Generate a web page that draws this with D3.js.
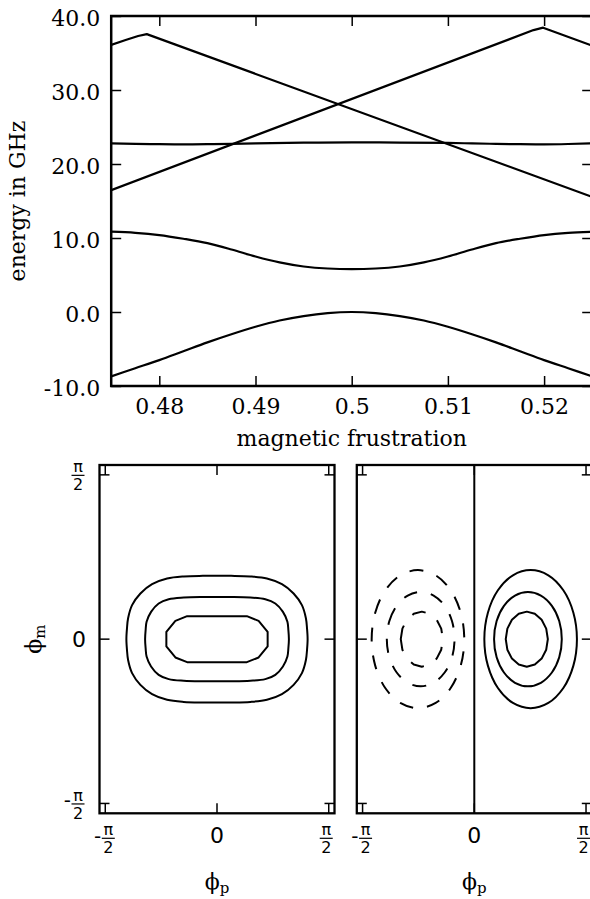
<!DOCTYPE html>
<html>
<head>
<meta charset="utf-8">
<script src="https://cdn.jsdelivr.net/npm/d3@7"></script>
<style>
  html, body { margin: 0; padding: 0; background: #fff; }
  svg { display: block; }
</style>
</head>
<body>
<svg id="fig" width="590" height="899"></svg>
<script>
// ---------- energy spectrum: tick values and labels ----------
const fluxTicks = [0.48, 0.49, 0.50, 0.51, 0.52];
const fluxTickLabels = ["0.48", "0.49", "0.5", "0.51", "0.52"];
const energyTicks = [-10, 0, 10, 20, 30, 40];
const energyTickLabels = ["-10.0", "0.0", "10.0", "20.0", "30.0", "40.0"];

// ---------- energy levels [frustration, energy in GHz] ----------
const levelGround = [
  [0.475, -8.7], [0.4775, -7.6], [0.48, -6.5], [0.4825, -5.3], [0.485, -4.1],
  [0.4875, -3.0], [0.49, -2.0], [0.4925, -1.15], [0.495, -0.55], [0.4975, -0.15],
  [0.50, 0.0], [0.5025, -0.15], [0.505, -0.55], [0.5075, -1.15], [0.51, -2.0],
  [0.5125, -3.0], [0.515, -4.1], [0.5175, -5.3], [0.52, -6.5], [0.5225, -7.6], [0.525, -8.7]
];
const levelFirst = [
  [0.475, 10.85], [0.4775, 10.7], [0.48, 10.4], [0.4825, 9.9], [0.485, 9.3],
  [0.4875, 8.45], [0.49, 7.5], [0.4925, 6.7], [0.495, 6.15], [0.4975, 5.88],
  [0.50, 5.8], [0.5025, 5.88], [0.505, 6.15], [0.5075, 6.7], [0.51, 7.5],
  [0.5125, 8.45], [0.515, 9.3], [0.5175, 9.9], [0.52, 10.4], [0.5225, 10.7], [0.525, 10.85]
];
const levelFlat = [
  [0.475, 22.8], [0.4775, 22.72], [0.48, 22.68], [0.4825, 22.66], [0.485, 22.68],
  [0.4875, 22.73], [0.49, 22.8], [0.495, 22.88], [0.50, 22.92], [0.505, 22.9],
  [0.51, 22.85], [0.5125, 22.78], [0.515, 22.72], [0.5175, 22.68], [0.52, 22.66],
  [0.5225, 22.7], [0.525, 22.79]
];
const levelFalling = [
  [0.475, 36.1], [0.4765, 36.75], [0.4778, 37.3], [0.4787, 37.55], [0.525, 15.56]
];
const levelRising = [
  [0.475, 16.47], [0.5189, 38.1], [0.5199, 38.42], [0.525, 35.98]
];
const smoothLevels = [levelGround, levelFirst, levelFlat];
const straightLevels = [levelFalling, levelRising];

// ---------- wavefunction panels: tick values and labels ----------
const phiTicks = [-Math.PI / 2, 0, Math.PI / 2];
const phiTickLabels = [
  { sign: "-", num: "\u03c0", den: "2" },
  { text: "0" },
  { sign: "", num: "\u03c0", den: "2" }
];

// contour lines of the ground state [phi_p, phi_m]
const groundOuter = [
  [1.274, 0], [1.266, 0.10], [1.250, 0.20], [1.194, 0.325], [1.077, 0.437], [0.913, 0.526],
  [0.702, 0.580], [0.468, 0.600], [0.20, 0.605], [0, 0.605], [-0.20, 0.605], [-0.468, 0.600],
  [-0.702, 0.580], [-0.913, 0.526], [-1.077, 0.437], [-1.194, 0.325], [-1.250, 0.20], [-1.266, 0.10],
  [-1.274, 0], [-1.266, -0.10], [-1.250, -0.20], [-1.194, -0.325], [-1.077, -0.437], [-0.913, -0.526],
  [-0.702, -0.580], [-0.468, -0.600], [-0.20, -0.605], [0, -0.605], [0.20, -0.605], [0.468, -0.600],
  [0.702, -0.580], [0.913, -0.526], [1.077, -0.437], [1.194, -0.325], [1.250, -0.20], [1.266, -0.10]
];
const groundMiddle = [
  [1.011, 0], [1.003, 0.09], [0.990, 0.166], [0.927, 0.261], [0.820, 0.341], [0.679, 0.382],
  [0.468, 0.398], [0.20, 0.403], [0, 0.403], [-0.20, 0.403], [-0.468, 0.398], [-0.679, 0.382],
  [-0.820, 0.341], [-0.927, 0.261], [-0.990, 0.166], [-1.003, 0.09], [-1.011, 0],
  [-1.003, -0.09], [-0.990, -0.166], [-0.927, -0.261], [-0.820, -0.341], [-0.679, -0.382],
  [-0.468, -0.398], [-0.20, -0.403], [0, -0.403], [0.20, -0.403], [0.468, -0.398], [0.679, -0.382],
  [0.820, -0.341], [0.927, -0.261], [0.990, -0.166], [1.003, -0.09]
];
const groundInner = [
  [0.712, 0.07], [0.585, 0.175], [0.42, 0.22], [-0.42, 0.22], [-0.585, 0.175], [-0.712, 0.07],
  [-0.712, -0.07], [-0.585, -0.175], [-0.42, -0.22], [0.42, -0.22], [0.585, -0.175], [0.712, -0.07]
];

// contour lines of the excited state: positive lobe, negative lobe, nodal line
const excitedPosOuter = [
  [1.443, 0], [1.393, 0.253], [1.252, 0.467], [1.041, 0.610], [0.792, 0.660], [0.543, 0.610],
  [0.332, 0.467], [0.191, 0.253], [0.141, 0], [0.191, -0.253], [0.332, -0.467], [0.543, -0.610],
  [0.792, -0.660], [1.041, -0.610], [1.252, -0.467], [1.393, -0.253]
];
const excitedPosMiddle = [
  [1.230, 0], [1.194, 0.173], [1.091, 0.319], [0.936, 0.417], [0.754, 0.451], [0.572, 0.417],
  [0.417, 0.319], [0.314, 0.173], [0.278, 0], [0.314, -0.173], [0.417, -0.319], [0.572, -0.417],
  [0.754, -0.451], [0.936, -0.417], [1.091, -0.319], [1.194, -0.173]
];
const excitedPosInner = [
  [1.034, 0], [1.011, 0.101], [0.947, 0.186], [0.851, 0.243], [0.738, 0.263], [0.625, 0.243],
  [0.529, 0.186], [0.465, 0.101], [0.442, 0], [0.465, -0.101], [0.529, -0.186], [0.625, -0.243],
  [0.738, -0.263], [0.851, -0.243], [0.947, -0.186], [1.011, -0.101]
];
const excitedNegOuter = [
  [-1.443, 0], [-1.393, 0.253], [-1.252, 0.467], [-1.041, 0.610], [-0.792, 0.660], [-0.543, 0.610],
  [-0.332, 0.467], [-0.191, 0.253], [-0.141, 0], [-0.191, -0.253], [-0.332, -0.467], [-0.543, -0.610],
  [-0.792, -0.660], [-1.041, -0.610], [-1.252, -0.467], [-1.393, -0.253]
];
const excitedNegMiddle = [
  [-1.230, 0], [-1.194, 0.173], [-1.091, 0.319], [-0.936, 0.417], [-0.754, 0.451], [-0.572, 0.417],
  [-0.417, 0.319], [-0.314, 0.173], [-0.278, 0], [-0.314, -0.173], [-0.417, -0.319], [-0.572, -0.417],
  [-0.754, -0.451], [-0.936, -0.417], [-1.091, -0.319], [-1.194, -0.173]
];
const excitedNegInner = [
  [-1.034, 0], [-1.011, 0.101], [-0.947, 0.186], [-0.851, 0.243], [-0.738, 0.263], [-0.625, 0.243],
  [-0.529, 0.186], [-0.465, 0.101], [-0.442, 0], [-0.465, -0.101], [-0.529, -0.186], [-0.625, -0.243],
  [-0.738, -0.263], [-0.851, -0.243], [-0.947, -0.186], [-1.011, -0.101]
];
const excitedNode = [[0, -1.665], [0, 1.665]];

// ================= drawing =================
const svg = d3.select("#fig");
const SERIF = "'DejaVu Serif', serif";
const SANS = "'DejaVu Sans', sans-serif";
const INK = "#000";

function styleAxis(g, fontFamily, fontSize) {
  g.select(".domain").remove();
  g.selectAll(".tick line").attr("stroke", INK).attr("stroke-width", 1.5);
  g.selectAll(".tick text").attr("fill", INK)
    .style("font-family", fontFamily).style("font-size", fontSize + "px");
}

// ---------- top panel: energy vs magnetic frustration ----------
const T = { l: 111.2, r: 592.2, t: 16, b: 386 };
const xE = d3.scaleLinear().domain([0.475, 0.525]).range([T.l, T.r]);
const yE = d3.scaleLinear().domain([-10, 40]).range([T.b, T.t]);

svg.append("clipPath").attr("id", "clipTop")
  .append("rect").attr("x", T.l).attr("y", T.t).attr("width", T.r - T.l).attr("height", T.b - T.t);

const gTop = svg.append("g");
const lineSmooth = d3.line().x(d => xE(d[0])).y(d => yE(d[1])).curve(d3.curveMonotoneX);
const lineStraight = d3.line().x(d => xE(d[0])).y(d => yE(d[1]));

const gLevels = gTop.append("g").attr("clip-path", "url(#clipTop)");
gLevels.selectAll("path.smooth").data(smoothLevels).join("path")
  .attr("class", "smooth").attr("d", lineSmooth)
  .attr("fill", "none").attr("stroke", INK).attr("stroke-width", 2.2).attr("stroke-linejoin", "round");
gLevels.selectAll("path.straight").data(straightLevels).join("path")
  .attr("class", "straight").attr("d", lineStraight)
  .attr("fill", "none").attr("stroke", INK).attr("stroke-width", 2.2).attr("stroke-linejoin", "round");

// ticks point inward on all four sides
const axB = gTop.append("g").attr("transform", `translate(0,${T.b})`)
  .call(d3.axisBottom(xE).tickValues(fluxTicks).tickFormat((d, i) => fluxTickLabels[i])
    .tickSize(-10).tickPadding(12.5));
styleAxis(axB, SERIF, 22);
const axT = gTop.append("g").attr("transform", `translate(0,${T.t})`)
  .call(d3.axisTop(xE).tickValues(fluxTicks).tickFormat("").tickSize(-10));
styleAxis(axT, SERIF, 22);
const axL = gTop.append("g").attr("transform", `translate(${T.l},0)`)
  .call(d3.axisLeft(yE).tickValues(energyTicks).tickFormat((d, i) => energyTickLabels[i])
    .tickSize(-10).tickPadding(11));
styleAxis(axL, SERIF, 22);
axL.selectAll(".tick text").attr("dy", "0.45em");
const axR = gTop.append("g").attr("transform", `translate(${T.r},0)`)
  .call(d3.axisRight(yE).tickValues(energyTicks).tickFormat("").tickSize(-10));
styleAxis(axR, SERIF, 22);

gTop.append("rect").attr("x", T.l).attr("y", T.t).attr("width", T.r - T.l).attr("height", T.b - T.t)
  .attr("fill", "none").attr("stroke", INK).attr("stroke-width", 2.5);

gTop.append("text").attr("x", (T.l + T.r) / 2).attr("y", 446)
  .attr("text-anchor", "middle").style("font-family", SERIF).style("font-size", "22px")
  .text("magnetic frustration");
gTop.append("text").attr("transform", `translate(25,${(T.t + T.b) / 2}) rotate(-90)`)
  .attr("text-anchor", "middle").style("font-family", SERIF).style("font-size", "22px")
  .text("energy in GHz");

// ---------- bottom panels: wavefunction contours ----------
const P = { t: 465, b: 813.3 };
const yPhi = d3.scaleLinear().domain([-1.665, 1.665]).range([P.b, P.t]);

function fraction(g, cx, barY, lab) {
  g.append("line").attr("x1", cx - 6.5).attr("x2", cx + 6.5).attr("y1", barY).attr("y2", barY)
    .attr("stroke", INK).attr("stroke-width", 1.2);
  g.append("text").attr("x", cx).attr("y", barY - 3.3).attr("text-anchor", "middle")
    .style("font-family", SANS).style("font-size", "16px").text(lab.num);
  g.append("text").attr("x", cx).attr("y", barY + 15).attr("text-anchor", "middle")
    .style("font-family", SANS).style("font-size", "16px").text(lab.den);
}

function panel(x0, x1, contours, showYLabels) {
  const xPhi = d3.scaleLinear().domain([-1.652, 1.652]).range([x0, x1]);
  const g = svg.append("g");
  const clipId = "clip" + Math.round(x0);
  svg.append("clipPath").attr("id", clipId).append("rect")
    .attr("x", x0).attr("y", P.t).attr("width", x1 - x0).attr("height", P.b - P.t);
  const gc = g.append("g").attr("clip-path", `url(#${clipId})`);

  contours.forEach(c => {
    const ln = d3.line().x(d => xPhi(d[0])).y(d => yPhi(d[1])).curve(c.curve);
    gc.append("path").attr("d", ln(c.data)).attr("fill", "none").attr("stroke", INK)
      .attr("stroke-width", 2).attr("stroke-linejoin", "round")
      .attr("stroke-dasharray", c.dashed ? "14,14" : null);
  });

  // inward ticks on all sides
  const tickLen = 10;
  phiTicks.forEach(v => {
    const px = xPhi(v), py = yPhi(v);
    g.append("line").attr("x1", px).attr("x2", px).attr("y1", P.b).attr("y2", P.b - tickLen)
      .attr("stroke", INK).attr("stroke-width", 1.5);
    g.append("line").attr("x1", px).attr("x2", px).attr("y1", P.t).attr("y2", P.t + tickLen)
      .attr("stroke", INK).attr("stroke-width", 1.5);
    g.append("line").attr("x1", x0).attr("x2", x0 + tickLen).attr("y1", py).attr("y2", py)
      .attr("stroke", INK).attr("stroke-width", 1.5);
    g.append("line").attr("x1", x1).attr("x2", x1 - tickLen).attr("y1", py).attr("y2", py)
      .attr("stroke", INK).attr("stroke-width", 1.5);
  });

  g.append("rect").attr("x", x0).attr("y", P.t).attr("width", x1 - x0).attr("height", P.b - P.t)
    .attr("fill", "none").attr("stroke", INK).attr("stroke-width", 2.3);

  // x tick labels
  phiTicks.forEach((v, i) => {
    const lab = phiTickLabels[i];
    const px = xPhi(v);
    if (lab.text) {
      g.append("text").attr("x", px).attr("y", 843.3).attr("text-anchor", "middle")
        .style("font-family", SANS).style("font-size", "22px").text(lab.text);
    } else {
      const cx = lab.sign ? px + 3 : px - 2.5;
      fraction(g, cx, 838.3, lab);
      if (lab.sign) {
        g.append("text").attr("x", cx - 7).attr("y", 842.5).attr("text-anchor", "end")
          .style("font-family", SANS).style("font-size", "20px").text(lab.sign);
      }
    }
  });

  // y tick labels
  if (showYLabels) {
    phiTicks.forEach((v, i) => {
      const lab = phiTickLabels[i];
      const py = yPhi(v);
      if (lab.text) {
        g.append("text").attr("x", 86).attr("y", py + 8).attr("text-anchor", "end")
          .style("font-family", SANS).style("font-size", "22px").text(lab.text);
      } else {
        const cx = 78;
        fraction(g, cx, py + 0.5, lab);
        if (lab.sign) {
          g.append("text").attr("x", cx - 7).attr("y", py + 3.5).attr("text-anchor", "end")
            .style("font-family", SANS).style("font-size", "20px").text(lab.sign);
        }
      }
    });
    const t = g.append("text").attr("transform", `translate(41,${(P.t + P.b) / 2}) rotate(-90)`)
      .attr("text-anchor", "middle").style("font-family", SERIF).style("font-size", "22px");
    t.append("tspan").text("\u03d5");
    t.append("tspan").attr("dy", 4).style("font-size", "15px").text("m");
  }

  const xl = g.append("text").attr("x", xPhi(0)).attr("y", 889).attr("text-anchor", "middle")
    .style("font-family", SERIF).style("font-size", "22px");
  xl.append("tspan").text("\u03d5");
  xl.append("tspan").attr("dy", 4).style("font-size", "15px").text("p");
}

panel(99.5, 334.5, [
  { data: groundOuter, curve: d3.curveCatmullRomClosed },
  { data: groundMiddle, curve: d3.curveCatmullRomClosed },
  { data: groundInner, curve: d3.curveLinearClosed }
], true);

panel(356.8, 591.8, [
  { data: excitedNode, curve: d3.curveLinear },
  { data: excitedPosOuter, curve: d3.curveCatmullRomClosed },
  { data: excitedPosMiddle, curve: d3.curveCatmullRomClosed },
  { data: excitedPosInner, curve: d3.curveLinearClosed },
  { data: excitedNegOuter, curve: d3.curveCatmullRomClosed, dashed: true },
  { data: excitedNegMiddle, curve: d3.curveCatmullRomClosed, dashed: true },
  { data: excitedNegInner, curve: d3.curveLinearClosed, dashed: true }
], false);
</script>
</body>
</html>
